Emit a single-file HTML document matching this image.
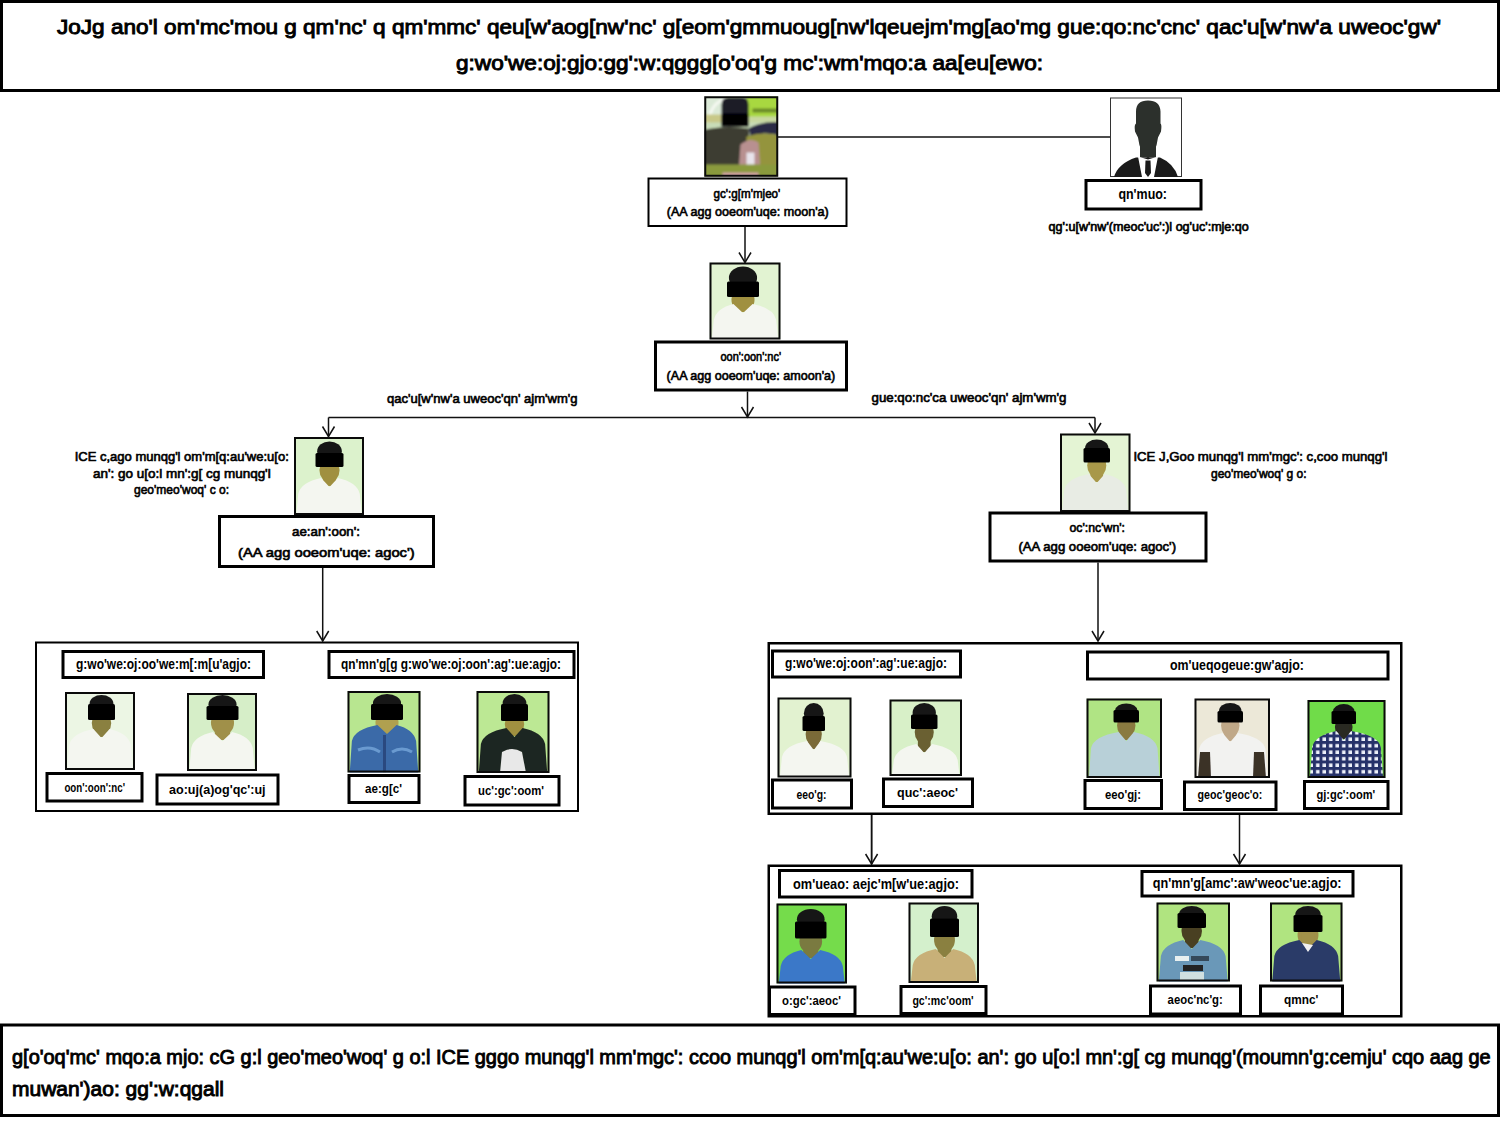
<!DOCTYPE html>
<html><head><meta charset="utf-8"><title>chart</title>
<style>
html,body{margin:0;padding:0;background:#fff;width:1500px;height:1125px;overflow:hidden}
svg{display:block}
text{font-family:"Liberation Sans",sans-serif}
</style></head>
<body>
<svg width="1500" height="1125" viewBox="0 0 1500 1125">
<defs><filter id="soft" x="-5%" y="-5%" width="110%" height="110%"><feGaussianBlur stdDeviation="0.5"/></filter><pattern id="chk" x="0" y="0" width="6.5" height="6.5" patternUnits="userSpaceOnUse"><rect width="6.5" height="6.5" fill="#eef2fa"/><rect width="3" height="6.5" fill="#28306a"/><rect width="6.5" height="3" fill="#28306a"/></pattern></defs>
<rect x="0" y="0" width="1500" height="1125" fill="#fff"/>
<rect x="1.50" y="1.50" width="1497.00" height="89.00" fill="none" stroke="#000" stroke-width="3"/>
<text x="57" y="33.5" font-size="20" font-weight="normal" fill="#000" stroke="#000" stroke-width="0.9" textLength="1384" lengthAdjust="spacingAndGlyphs">JoJg ano&#x27;l om&#x27;mc&#x27;mou g qm&#x27;nc&#x27; q qm&#x27;mmc&#x27; qeu[w&#x27;aog[nw&#x27;nc&#x27; g[eom&#x27;gmmuoug[nw&#x27;lqeuejm&#x27;mg[ao&#x27;mg gue:qo:nc&#x27;cnc&#x27; qac&#x27;u[w&#x27;nw&#x27;a uweoc&#x27;gw&#x27;</text>
<text x="456" y="69.5" font-size="20" font-weight="normal" fill="#000" stroke="#000" stroke-width="0.9" textLength="587" lengthAdjust="spacingAndGlyphs">g:wo&#x27;we:oj:gjo:gg&#x27;:w:qggg[o&#x27;oq&#x27;g mc&#x27;:wm&#x27;mqo:a aa[eu[ewo:</text>
<g><clipPath id="cp1"><rect x="704.5" y="96.5" width="73.5" height="80"/></clipPath><filter id="bl1" x="-5%" y="-5%" width="110%" height="110%"><feGaussianBlur stdDeviation="1.2"/></filter><g clip-path="url(#cp1)"><g transform="translate(704.5,96.5)" filter="url(#bl1)"><rect x="-3" y="-3" width="80" height="86" fill="#c8dcb8"/><rect x="-3" y="-3" width="22" height="28" fill="#dcead8"/><path d="M4,26 Q6,6 22,2" fill="none" stroke="#f4f8f0" stroke-width="3"/><rect x="42" y="-3" width="36" height="28" fill="#a8d840"/><rect x="48" y="12" width="30" height="4" fill="#6a8a28"/><rect x="-3" y="18" width="24" height="8" fill="#c8c888"/><rect x="42" y="20" width="36" height="6" fill="#c8d8a0"/><path d="M44,32 Q58,24 78,26 L78,40 Q60,34 46,40 Z" fill="#2a2c44"/><path d="M-3,34 Q20,28 44,32 L50,84 L-3,84 Z" fill="#3c3c32"/><path d="M42,40 Q60,34 78,40 L78,84 L40,84 Z" fill="#94943c"/><path d="M36,48 Q46,40 54,46 L56,74 L34,76 Z" fill="#b89090"/><rect x="42" y="56" width="8" height="16" fill="#e8e4ec"/><rect x="-3" y="68" width="80" height="16" fill="#8a9a3c"/><rect x="18" y="76" width="36" height="8" fill="#d0a0a0"/><path d="M17,30 L17,8 Q17,1 24,1 L38,1 Q44,1 44,8 L44,30 Z" fill="#1c1c28"/><rect x="17" y="17" width="27" height="13" rx="1.5" fill="#060606"/></g></g><rect x="705.25" y="97.25" width="72.0" height="78.5" fill="none" stroke="#0a0a0a" stroke-width="2"/></g>
<g><rect x="1110.5" y="98.0" width="71" height="78.5" fill="#fff" stroke="#333" stroke-width="1"/><path d="M1136,111.5 Q1136,100.5 1148,100.5 Q1160,100.5 1160.5,111.5 L1160.5,123.5 Q1162,124.5 1161,131.5 Q1159,135.5 1158,137.5 Q1156,153.5 1148,158.5 Q1140,153.5 1138,137.5 Q1137,135.5 1135,131.5 Q1134,124.5 1136,123.5 Z" fill="#2c302c"/><rect x="1140" y="145.5" width="16" height="12" fill="#2c302c"/><path d="M1114,177 Q1118,163.5 1136,157.5 L1160,157.5 Q1174,163.5 1178,177 Z" fill="#1a1a1a"/><path d="M1138,156.5 L1148,159.5 L1158,156.5 L1154,177 L1142,177 Z" fill="#fff"/><path d="M1145.5,160.5 L1150.5,160.5 L1151,173 L1148,177 L1145,173 Z" fill="#1a1a1a"/></g>
<g><clipPath id="c1"><rect x="709.5" y="262.5" width="71.0" height="77.0"/></clipPath><g clip-path="url(#c1)"><g filter="url(#soft)"><rect x="709.5" y="262.5" width="71.0" height="77.0" fill="#e2f3d2"/><ellipse cx="743.0" cy="300" rx="11.52" ry="12.0" fill="#a09040"/><rect x="735.32" y="299" width="15.36" height="13" fill="#a09040"/><path d="M711.63,340.5 L713.76,320 Q716.6,308 733.4,304 L743.0,313 L752.6,304 Q773.4,308 776.24,320 L778.37,340.5 Z" fill="#f4f6f0"/><ellipse cx="743.0" cy="278.0" rx="14.08" ry="11.5" fill="#161616"/><rect x="727" y="281.5" width="32" height="15.5" rx="1.5" fill="#060606"/></g></g><rect x="710.5" y="263.5" width="69.0" height="75.0" fill="none" stroke="#0a0a0a" stroke-width="2"/></g>
<g><clipPath id="c2"><rect x="294" y="437" width="70" height="78"/></clipPath><g clip-path="url(#c2)"><g filter="url(#soft)"><rect x="294" y="437" width="70" height="78" fill="#dcf2cc"/><ellipse cx="329.5" cy="470" rx="10.08" ry="12.0" fill="#a09040"/><rect x="322.78" y="469" width="13.44" height="17" fill="#a09040"/><path d="M296.1,516 L298.2,494 Q301.0,482 321.1,478 L329.5,487 L337.9,478 Q357.0,482 359.8,494 L361.9,516 Z" fill="#f4f6f0"/><ellipse cx="329.5" cy="451.25" rx="12.32" ry="9.75" fill="#161616"/><rect x="315.5" y="453" width="28.0" height="14" rx="1.5" fill="#060606"/></g></g><rect x="295.0" y="438.0" width="68" height="76" fill="none" stroke="#0a0a0a" stroke-width="2"/></g>
<g><clipPath id="c3"><rect x="1060" y="433.5" width="70.5" height="78.5"/></clipPath><g clip-path="url(#c3)"><g filter="url(#soft)"><rect x="1060" y="433.5" width="70.5" height="78.5" fill="#e4f4d4"/><ellipse cx="1096.75" cy="465.5" rx="9.54" ry="12.0" fill="#a89848"/><rect x="1090.39" y="464.5" width="12.719999999999999" height="17.5" fill="#a89848"/><path d="M1062.115,513 L1064.23,490 Q1067.05,478 1088.8,474 L1096.75,483 L1104.7,474 Q1123.45,478 1126.27,490 L1128.385,513 Z" fill="#e8ece4"/><ellipse cx="1096.75" cy="447.75" rx="11.66" ry="8.25" fill="#161616"/><rect x="1083.5" y="448" width="26.5" height="14.5" rx="1.5" fill="#060606"/></g></g><rect x="1061.0" y="434.5" width="68.5" height="76.5" fill="none" stroke="#0a0a0a" stroke-width="2"/></g>
<g><clipPath id="c4"><rect x="65" y="692" width="70" height="78"/></clipPath><g clip-path="url(#c4)"><g filter="url(#soft)"><rect x="65" y="692" width="70" height="78" fill="#ecf6e4"/><ellipse cx="101.5" cy="723" rx="9.719999999999999" ry="12.0" fill="#8a8040"/><rect x="95.02" y="722" width="12.959999999999999" height="15" fill="#8a8040"/><path d="M67.1,771 L69.2,745 Q72.0,733 93.4,729 L101.5,738 L109.6,729 Q128.0,733 130.8,745 L132.9,771 Z" fill="#f4f6f0"/><ellipse cx="101.5" cy="703.5" rx="11.88" ry="8.5" fill="#161616"/><rect x="88" y="704" width="27" height="16" rx="1.5" fill="#060606"/></g></g><rect x="66.0" y="693.0" width="68" height="76" fill="none" stroke="#0a0a0a" stroke-width="2"/></g>
<g><clipPath id="c5"><rect x="187" y="693" width="70" height="78"/></clipPath><g clip-path="url(#c5)"><g filter="url(#soft)"><rect x="187" y="693" width="70" height="78" fill="#d6eec8"/><ellipse cx="222.5" cy="723" rx="11.52" ry="12.0" fill="#a09048"/><rect x="214.82" y="722" width="15.36" height="18" fill="#a09048"/><path d="M189.1,772 L191.2,748 Q194.0,736 212.9,732 L222.5,741 L232.1,732 Q250.0,736 252.8,748 L254.9,772 Z" fill="#f4f6f0"/><ellipse cx="222.5" cy="704.5" rx="14.08" ry="9.5" fill="#161616"/><rect x="206.5" y="706" width="32.0" height="14" rx="1.5" fill="#060606"/></g></g><rect x="188.0" y="694.0" width="68" height="76" fill="none" stroke="#0a0a0a" stroke-width="2"/></g>
<g><clipPath id="c6"><rect x="347.5" y="691" width="73.0" height="81.5"/></clipPath><g clip-path="url(#c6)"><g filter="url(#soft)"><rect x="347.5" y="691" width="73.0" height="81.5" fill="#b8e690"/><ellipse cx="387.0" cy="723" rx="11.52" ry="12.0" fill="#b0a050"/><rect x="379.32" y="722" width="15.36" height="11" fill="#b0a050"/><path d="M349.69,773.5 L351.88,741 Q354.8,729 377.4,725 L387.0,734 L396.6,725 Q413.2,729 416.12,741 L418.31,773.5 Z" fill="#3a6aa8"/><path d="M358,750 Q370,745 380,752" stroke="#6a9ad0" stroke-width="3" fill="none"/><path d="M392,752 Q402,746 412,752" stroke="#6a9ad0" stroke-width="3" fill="none"/><rect x="383" y="735" width="3" height="38" fill="#2a4a80"/><ellipse cx="387.0" cy="703.0" rx="14.08" ry="9.0" fill="#161616"/><rect x="371" y="704" width="32" height="16" rx="1.5" fill="#060606"/></g></g><rect x="348.5" y="692.0" width="71.0" height="79.5" fill="none" stroke="#0a0a0a" stroke-width="2"/></g>
<g><clipPath id="c7"><rect x="476.5" y="691" width="73.0" height="82"/></clipPath><g clip-path="url(#c7)"><g filter="url(#soft)"><rect x="476.5" y="691" width="73.0" height="82" fill="#bce894"/><ellipse cx="514.5" cy="724" rx="9.719999999999999" ry="12.0" fill="#a09040"/><rect x="508.02" y="723" width="12.959999999999999" height="13" fill="#a09040"/><path d="M478.69,774 L480.88,744 Q483.8,732 506.4,728 L514.5,737 L522.6,728 Q542.2,732 545.12,744 L547.31,774 Z" fill="#1e2820"/><path d="M500,773 L502,752 Q512,746 522,752 L526,773 Z" fill="#e8e8e8"/><ellipse cx="514.5" cy="703.0" rx="11.88" ry="9.0" fill="#161616"/><rect x="501" y="704" width="27" height="17" rx="1.5" fill="#060606"/></g></g><rect x="477.5" y="692.0" width="71.0" height="80" fill="none" stroke="#0a0a0a" stroke-width="2"/></g>
<g><clipPath id="c8"><rect x="777.5" y="697.5" width="74.0" height="80.0"/></clipPath><g clip-path="url(#c8)"><g filter="url(#soft)"><rect x="777.5" y="697.5" width="74.0" height="80.0" fill="#e2f2d0"/><ellipse cx="813.75" cy="734" rx="8.1" ry="12.0" fill="#7a6a38"/><rect x="808.35" y="733" width="10.799999999999999" height="16" fill="#7a6a38"/><path d="M779.72,778.5 L781.94,757 Q784.9,745 807.0,741 L813.75,750 L820.5,741 Q844.1,745 847.06,757 L849.28,778.5 Z" fill="#f4f6f0"/><ellipse cx="813.75" cy="713.5" rx="9.9" ry="10.5" fill="#161616"/><rect x="802.5" y="716" width="22.5" height="15" rx="1.5" fill="#060606"/></g></g><rect x="778.5" y="698.5" width="72.0" height="78.0" fill="none" stroke="#0a0a0a" stroke-width="2"/></g>
<g><clipPath id="c9"><rect x="889.5" y="699.5" width="72.5" height="76.5"/></clipPath><g clip-path="url(#c9)"><g filter="url(#soft)"><rect x="889.5" y="699.5" width="72.5" height="76.5" fill="#d8f0c8"/><ellipse cx="924.25" cy="732" rx="9.54" ry="12.0" fill="#6a6030"/><rect x="917.89" y="731" width="12.719999999999999" height="21" fill="#6a6030"/><path d="M891.675,777 L893.85,760 Q896.75,748 916.3,744 L924.25,753 L932.2,744 Q954.75,748 957.65,760 L959.825,777 Z" fill="#f4f6f0"/><ellipse cx="924.25" cy="712.75" rx="11.66" ry="9.75" fill="#161616"/><rect x="911" y="714.5" width="26.5" height="14.5" rx="1.5" fill="#060606"/></g></g><rect x="890.5" y="700.5" width="70.5" height="74.5" fill="none" stroke="#0a0a0a" stroke-width="2"/></g>
<g><clipPath id="c10"><rect x="1086.5" y="698.5" width="75.5" height="79.5"/></clipPath><g clip-path="url(#c10)"><g filter="url(#soft)"><rect x="1086.5" y="698.5" width="75.5" height="79.5" fill="#b0e484"/><ellipse cx="1126.25" cy="725.5" rx="9.18" ry="12.0" fill="#8a7a40"/><rect x="1120.13" y="724.5" width="12.24" height="15.5" fill="#8a7a40"/><path d="M1088.765,779 L1091.03,748 Q1094.05,736 1118.6,732 L1126.25,741 L1133.9,732 Q1154.45,736 1157.47,748 L1159.735,779 Z" fill="#b8d0d8"/><ellipse cx="1126.25" cy="710.75" rx="11.22" ry="7.25" fill="#161616"/><rect x="1113.5" y="710" width="25.5" height="12.5" rx="1.5" fill="#060606"/></g></g><rect x="1087.5" y="699.5" width="73.5" height="77.5" fill="none" stroke="#0a0a0a" stroke-width="2"/></g>
<g><clipPath id="c11"><rect x="1194.5" y="698.5" width="75.5" height="79.5"/></clipPath><g clip-path="url(#c11)"><g filter="url(#soft)"><rect x="1194.5" y="698.5" width="75.5" height="79.5" fill="#ece8d8"/><ellipse cx="1230.25" cy="725.5" rx="9.18" ry="12.0" fill="#c0a888"/><rect x="1224.13" y="724.5" width="12.24" height="16.5" fill="#c0a888"/><path d="M1196.765,779 L1199.03,749 Q1202.05,737 1222.6,733 L1230.25,742 L1237.9,733 Q1262.45,737 1265.47,749 L1267.735,779 Z" fill="#f2f2f0"/><path d="M1198,778 L1200,752 L1210,752 L1211,778 Z" fill="#3a3028"/><path d="M1266,778 L1264,752 L1254,752 L1253,778 Z" fill="#3a3028"/><ellipse cx="1230.25" cy="711.0" rx="11.22" ry="8.0" fill="#161616"/><rect x="1217.5" y="711" width="25.5" height="11.5" rx="1.5" fill="#060606"/></g></g><rect x="1195.5" y="699.5" width="73.5" height="77.5" fill="none" stroke="#0a0a0a" stroke-width="2"/></g>
<g><clipPath id="c12"><rect x="1307.5" y="700" width="78.0" height="78"/></clipPath><g clip-path="url(#c12)"><g filter="url(#soft)"><rect x="1307.5" y="700" width="78.0" height="78" fill="#70dc48"/><ellipse cx="1343.75" cy="727" rx="8.82" ry="12.0" fill="#2a2a20"/><rect x="1337.87" y="726" width="11.76" height="13" fill="#2a2a20"/><path d="M1309.84,779 L1312.18,747 Q1315.3,735 1336.4,731 L1343.75,740 L1351.1,731 Q1377.7,735 1380.82,747 L1383.16,779 Z" fill="url(#chk)"/><ellipse cx="1343.75" cy="711.5" rx="10.78" ry="7.5" fill="#161616"/><rect x="1331.5" y="711" width="24.5" height="13" rx="1.5" fill="#060606"/></g></g><rect x="1308.5" y="701.0" width="76.0" height="76" fill="none" stroke="#0a0a0a" stroke-width="2"/></g>
<g><clipPath id="c13"><rect x="776.5" y="903.5" width="70.5" height="80.0"/></clipPath><g clip-path="url(#c13)"><g filter="url(#soft)"><rect x="776.5" y="903.5" width="70.5" height="80.0" fill="#74dc4c"/><ellipse cx="810.75" cy="941.5" rx="11.34" ry="12.0" fill="#7a7a40"/><rect x="803.19" y="940.5" width="15.12" height="17.5" fill="#7a7a40"/><path d="M778.615,984.5 L780.73,966 Q783.55,954 801.3,950 L810.75,959 L820.2,950 Q839.95,954 842.77,966 L844.885,984.5 Z" fill="#3a78c8"/><ellipse cx="810.75" cy="919.25" rx="13.86" ry="10.25" fill="#161616"/><rect x="795" y="921.5" width="31.5" height="17.0" rx="1.5" fill="#060606"/></g></g><rect x="777.5" y="904.5" width="68.5" height="78.0" fill="none" stroke="#0a0a0a" stroke-width="2"/></g>
<g><clipPath id="c14"><rect x="908.5" y="902.5" width="70.5" height="80.5"/></clipPath><g clip-path="url(#c14)"><g filter="url(#soft)"><rect x="908.5" y="902.5" width="70.5" height="80.5" fill="#d4f0cc"/><ellipse cx="944.5" cy="940" rx="10.44" ry="12.0" fill="#8a8040"/><rect x="937.54" y="939" width="13.92" height="18" fill="#8a8040"/><path d="M910.615,984 L912.73,965 Q915.55,953 935.8,949 L944.5,958 L953.2,949 Q971.95,953 974.77,965 L976.885,984 Z" fill="#c8b078"/><ellipse cx="944.5" cy="916.25" rx="12.76" ry="10.25" fill="#161616"/><rect x="930" y="918.5" width="29" height="18.5" rx="1.5" fill="#060606"/></g></g><rect x="909.5" y="903.5" width="68.5" height="78.5" fill="none" stroke="#0a0a0a" stroke-width="2"/></g>
<g><clipPath id="c15"><rect x="1156.5" y="902.5" width="73.5" height="79.0"/></clipPath><g clip-path="url(#c15)"><g filter="url(#soft)"><rect x="1156.5" y="902.5" width="73.5" height="79.0" fill="#b0e480"/><ellipse cx="1191.75" cy="931" rx="10.26" ry="12.0" fill="#4a4020"/><rect x="1184.91" y="930" width="13.68" height="18" fill="#4a4020"/><path d="M1158.705,982.5 L1160.91,956 Q1163.85,944 1183.2,940 L1191.75,949 L1200.3,940 Q1222.65,944 1225.59,956 L1227.795,982.5 Z" fill="#6a98b8"/><rect x="1175" y="956" width="14" height="5" fill="#e8f0f0"/><rect x="1191" y="956" width="18" height="5" fill="#34485a"/><rect x="1183" y="965" width="20" height="6" fill="#222"/><rect x="1180" y="972" width="24" height="9" fill="#d0e0e0"/><ellipse cx="1191.75" cy="913.5" rx="12.540000000000001" ry="7.5" fill="#161616"/><rect x="1177.5" y="913" width="28.5" height="15" rx="1.5" fill="#060606"/></g></g><rect x="1157.5" y="903.5" width="71.5" height="77.0" fill="none" stroke="#0a0a0a" stroke-width="2"/></g>
<g><clipPath id="c16"><rect x="1270" y="902.5" width="72.5" height="79.0"/></clipPath><g clip-path="url(#c16)"><g filter="url(#soft)"><rect x="1270" y="902.5" width="72.5" height="79.0" fill="#b0e480"/><ellipse cx="1308.0" cy="935" rx="10.44" ry="12.0" fill="#a09048"/><rect x="1301.04" y="934" width="13.92" height="14" fill="#a09048"/><path d="M1272.175,982.5 L1274.35,956 Q1277.25,944 1299.3,940 L1308.0,949 L1316.7,940 Q1335.25,944 1338.15,956 L1340.325,982.5 Z" fill="#2a3a68"/><path d="M1302,943 L1308,952 L1313,945 Z" fill="#f0f0f0"/><ellipse cx="1308.0" cy="914.5" rx="12.76" ry="8.5" fill="#161616"/><rect x="1293.5" y="915" width="29.0" height="17" rx="1.5" fill="#060606"/></g></g><rect x="1271.0" y="903.5" width="70.5" height="77.0" fill="none" stroke="#0a0a0a" stroke-width="2"/></g>
<rect x="648.50" y="178.50" width="198.00" height="47.50" fill="none" stroke="#000" stroke-width="2"/>
<text x="713.6" y="198" font-size="13" font-weight="normal" fill="#000" stroke="#000" stroke-width="0.65" textLength="66.69999999999993" lengthAdjust="spacingAndGlyphs">gc&#x27;:g[m&#x27;mjeo&#x27;</text>
<text x="666.8" y="216" font-size="13" font-weight="normal" fill="#000" stroke="#000" stroke-width="0.65" textLength="162.0" lengthAdjust="spacingAndGlyphs">(AA agg ooeom&#x27;uqe: moon&#x27;a)</text>
<rect x="1086.00" y="180.50" width="115.00" height="28.50" fill="none" stroke="#000" stroke-width="3"/>
<text x="1118.4" y="199" font-size="14" font-weight="bold" fill="#000" textLength="48.59999999999991" lengthAdjust="spacingAndGlyphs">qn&#x27;muo:</text>
<text x="1048.6" y="231" font-size="12" font-weight="normal" fill="#000" stroke="#000" stroke-width="0.65" textLength="200.20000000000005" lengthAdjust="spacingAndGlyphs">qg&#x27;:u[w&#x27;nw&#x27;(meoc&#x27;uc&#x27;:)l og&#x27;uc&#x27;:mje:qo</text>
<line x1="778" y1="137" x2="1110" y2="137" stroke="#111" stroke-width="1.5"/>
<line x1="745" y1="227" x2="745" y2="262.5" stroke="#111" stroke-width="1.5"/>
<polyline points="739,252.5 745,262.5 751,252.5" fill="none" stroke="#111" stroke-width="1.5"/>
<rect x="655.50" y="342.00" width="191.00" height="48.00" fill="none" stroke="#000" stroke-width="3"/>
<text x="720.5" y="361" font-size="13" font-weight="normal" fill="#000" stroke="#000" stroke-width="0.65" textLength="60.5" lengthAdjust="spacingAndGlyphs">oon&#x27;:oon&#x27;:nc&#x27;</text>
<text x="666.6" y="380" font-size="13" font-weight="normal" fill="#000" stroke="#000" stroke-width="0.65" textLength="168.60000000000002" lengthAdjust="spacingAndGlyphs">(AA agg ooeom&#x27;uqe: amoon&#x27;a)</text>
<line x1="747.5" y1="391.5" x2="747.5" y2="417" stroke="#111" stroke-width="1.5"/>
<polyline points="741.5,407 747.5,417 753.5,407" fill="none" stroke="#111" stroke-width="1.5"/>
<line x1="328.5" y1="417.5" x2="1095" y2="417.5" stroke="#111" stroke-width="1.5"/>
<line x1="328.5" y1="417.5" x2="328.5" y2="436.5" stroke="#111" stroke-width="1.5"/>
<polyline points="322.5,426.5 328.5,436.5 334.5,426.5" fill="none" stroke="#111" stroke-width="1.5"/>
<line x1="1095" y1="417.5" x2="1095" y2="433" stroke="#111" stroke-width="1.5"/>
<polyline points="1089,423 1095,433 1101,423" fill="none" stroke="#111" stroke-width="1.5"/>
<text x="387" y="403" font-size="13" font-weight="normal" fill="#000" stroke="#000" stroke-width="0.65" textLength="190.5" lengthAdjust="spacingAndGlyphs">qac&#x27;u[w&#x27;nw&#x27;a uweoc&#x27;qn&#x27; ajm&#x27;wm&#x27;g</text>
<text x="871.5" y="402" font-size="13" font-weight="normal" fill="#000" stroke="#000" stroke-width="0.65" textLength="195.0" lengthAdjust="spacingAndGlyphs">gue:qo:nc&#x27;ca uweoc&#x27;qn&#x27; ajm&#x27;wm&#x27;g</text>
<text x="74.7" y="461" font-size="13" font-weight="normal" fill="#000" stroke="#000" stroke-width="0.65" textLength="214.10000000000002" lengthAdjust="spacingAndGlyphs">ICE c,ago munqg&#x27;l om&#x27;m[q:au&#x27;we:u[o:</text>
<text x="93" y="478" font-size="13" font-weight="normal" fill="#000" stroke="#000" stroke-width="0.65" textLength="177.7" lengthAdjust="spacingAndGlyphs">an&#x27;: go u[o:l mn&#x27;:g[ cg munqg&#x27;l</text>
<text x="134" y="494" font-size="13" font-weight="normal" fill="#000" stroke="#000" stroke-width="0.65" textLength="95" lengthAdjust="spacingAndGlyphs">geo&#x27;meo&#x27;woq&#x27; c o:</text>
<rect x="219.50" y="516.50" width="214.00" height="50.00" fill="none" stroke="#000" stroke-width="3"/>
<text x="292" y="536" font-size="13" font-weight="normal" fill="#000" stroke="#000" stroke-width="0.65" textLength="68" lengthAdjust="spacingAndGlyphs">ae:an&#x27;:oon&#x27;:</text>
<text x="238" y="557" font-size="13" font-weight="normal" fill="#000" stroke="#000" stroke-width="0.65" textLength="176.7" lengthAdjust="spacingAndGlyphs">(AA agg ooeom&#x27;uqe: agoc&#x27;)</text>
<line x1="322.7" y1="568" x2="322.7" y2="641" stroke="#111" stroke-width="1.5"/>
<polyline points="316.7,631 322.7,641 328.7,631" fill="none" stroke="#111" stroke-width="1.5"/>
<text x="1133.4" y="461" font-size="13" font-weight="normal" fill="#000" stroke="#000" stroke-width="0.65" textLength="254.0999999999999" lengthAdjust="spacingAndGlyphs">ICE J,Goo munqg&#x27;l mm&#x27;mgc&#x27;: c,coo munqg&#x27;l</text>
<text x="1211" y="478" font-size="13" font-weight="normal" fill="#000" stroke="#000" stroke-width="0.65" textLength="95.5" lengthAdjust="spacingAndGlyphs">geo&#x27;meo&#x27;woq&#x27; g o:</text>
<rect x="990.00" y="513.00" width="216.00" height="48.00" fill="none" stroke="#000" stroke-width="3"/>
<text x="1069.5" y="532" font-size="13" font-weight="normal" fill="#000" stroke="#000" stroke-width="0.65" textLength="55.5" lengthAdjust="spacingAndGlyphs">oc&#x27;:nc&#x27;wn&#x27;:</text>
<text x="1018.5" y="551" font-size="13" font-weight="normal" fill="#000" stroke="#000" stroke-width="0.65" textLength="157.5" lengthAdjust="spacingAndGlyphs">(AA agg ooeom&#x27;uqe: agoc&#x27;)</text>
<line x1="1098" y1="562.5" x2="1098" y2="641" stroke="#111" stroke-width="1.5"/>
<polyline points="1092,631 1098,641 1104,631" fill="none" stroke="#111" stroke-width="1.5"/>
<rect x="36.00" y="642.50" width="542.00" height="168.50" fill="none" stroke="#000" stroke-width="2"/>
<rect x="63.00" y="651.50" width="200.50" height="26.00" fill="none" stroke="#000" stroke-width="3"/>
<text x="76" y="669" font-size="14" font-weight="bold" fill="#000" textLength="175" lengthAdjust="spacingAndGlyphs">g:wo&#x27;we:oj:oo&#x27;we:m[:m[u&#x27;agjo:</text>
<rect x="329.00" y="651.50" width="245.00" height="26.00" fill="none" stroke="#000" stroke-width="3"/>
<text x="341" y="669" font-size="14" font-weight="bold" fill="#000" textLength="220" lengthAdjust="spacingAndGlyphs">qn&#x27;mn&#x27;g[g g:wo&#x27;we:oj:oon&#x27;:ag&#x27;:ue:agjo:</text>
<rect x="47.00" y="773.50" width="95.00" height="27.50" fill="none" stroke="#000" stroke-width="3"/>
<text x="64.4" y="792" font-size="13" font-weight="bold" fill="#000" textLength="60.599999999999994" lengthAdjust="spacingAndGlyphs">oon&#x27;:oon&#x27;:nc&#x27;</text>
<rect x="157.00" y="775.00" width="121.00" height="29.00" fill="none" stroke="#000" stroke-width="3"/>
<text x="169" y="794" font-size="13" font-weight="bold" fill="#000" textLength="96.60000000000002" lengthAdjust="spacingAndGlyphs">ao:uj(a)og&#x27;qc&#x27;:uj</text>
<rect x="349.00" y="775.50" width="70.00" height="27.00" fill="none" stroke="#000" stroke-width="3"/>
<text x="365" y="793" font-size="13" font-weight="bold" fill="#000" textLength="37" lengthAdjust="spacingAndGlyphs">ae:g[c&#x27;</text>
<rect x="465.00" y="776.50" width="94.00" height="28.50" fill="none" stroke="#000" stroke-width="3"/>
<text x="478" y="795" font-size="13" font-weight="bold" fill="#000" textLength="66" lengthAdjust="spacingAndGlyphs">uc&#x27;:gc&#x27;:oom&#x27;</text>
<rect x="768.75" y="643.25" width="632.50" height="170.50" fill="none" stroke="#000" stroke-width="2.5"/>
<rect x="772.50" y="651.00" width="188.00" height="26.00" fill="none" stroke="#000" stroke-width="3"/>
<text x="785" y="668" font-size="14" font-weight="bold" fill="#000" textLength="162" lengthAdjust="spacingAndGlyphs">g:wo&#x27;we:oj:oon&#x27;:ag&#x27;:ue:agjo:</text>
<rect x="1087.50" y="652.00" width="300.50" height="27.00" fill="none" stroke="#000" stroke-width="3"/>
<text x="1170" y="670" font-size="14" font-weight="bold" fill="#000" textLength="134" lengthAdjust="spacingAndGlyphs">om&#x27;ueqogeue:gw&#x27;agjo:</text>
<rect x="772.50" y="780.00" width="79.00" height="28.00" fill="none" stroke="#000" stroke-width="3"/>
<text x="796.4" y="799" font-size="13" font-weight="bold" fill="#000" textLength="30.0" lengthAdjust="spacingAndGlyphs">eeo&#x27;g:</text>
<rect x="883.50" y="779.00" width="89.00" height="27.50" fill="none" stroke="#000" stroke-width="3"/>
<text x="897" y="797" font-size="13" font-weight="bold" fill="#000" textLength="61" lengthAdjust="spacingAndGlyphs">quc&#x27;:aeoc&#x27;</text>
<rect x="1085.00" y="780.50" width="76.50" height="28.00" fill="none" stroke="#000" stroke-width="3"/>
<text x="1105" y="799" font-size="13" font-weight="bold" fill="#000" textLength="36" lengthAdjust="spacingAndGlyphs">eeo&#x27;gj:</text>
<rect x="1184.50" y="782.00" width="91.50" height="27.50" fill="none" stroke="#000" stroke-width="3"/>
<text x="1197.6" y="799" font-size="13" font-weight="bold" fill="#000" textLength="64.80000000000018" lengthAdjust="spacingAndGlyphs">geoc&#x27;geoc&#x27;o:</text>
<rect x="1304.50" y="781.50" width="83.50" height="27.00" fill="none" stroke="#000" stroke-width="3"/>
<text x="1316.4" y="799" font-size="13" font-weight="bold" fill="#000" textLength="58.799999999999955" lengthAdjust="spacingAndGlyphs">gj:gc&#x27;:oom&#x27;</text>
<line x1="871.6" y1="815" x2="871.6" y2="864.5" stroke="#111" stroke-width="1.5"/>
<line x1="871.6" y1="815" x2="871.6" y2="864" stroke="#111" stroke-width="1.5"/>
<polyline points="865.6,854 871.6,864 877.6,854" fill="none" stroke="#111" stroke-width="1.5"/>
<line x1="1239.5" y1="815" x2="1239.5" y2="864" stroke="#111" stroke-width="1.5"/>
<polyline points="1233.5,854 1239.5,864 1245.5,854" fill="none" stroke="#111" stroke-width="1.5"/>
<rect x="768.75" y="865.75" width="632.50" height="150.50" fill="none" stroke="#000" stroke-width="2.5"/>
<rect x="779.50" y="870.50" width="192.50" height="26.50" fill="none" stroke="#000" stroke-width="3"/>
<text x="793" y="889" font-size="14" font-weight="bold" fill="#000" textLength="166" lengthAdjust="spacingAndGlyphs">om&#x27;ueao: aejc&#x27;m[w&#x27;ue:agjo:</text>
<rect x="1142.00" y="871.50" width="211.00" height="24.50" fill="none" stroke="#000" stroke-width="3"/>
<text x="1152.7" y="888" font-size="14" font-weight="bold" fill="#000" textLength="188.89999999999986" lengthAdjust="spacingAndGlyphs">qn&#x27;mn&#x27;g[amc&#x27;:aw&#x27;weoc&#x27;ue:agjo:</text>
<rect x="769.50" y="987.00" width="85.50" height="27.50" fill="none" stroke="#000" stroke-width="3"/>
<text x="782" y="1005" font-size="13" font-weight="bold" fill="#000" textLength="59" lengthAdjust="spacingAndGlyphs">o:gc&#x27;:aeoc&#x27;</text>
<rect x="901.00" y="986.50" width="85.00" height="27.00" fill="none" stroke="#000" stroke-width="3"/>
<text x="912.4" y="1005" font-size="13" font-weight="bold" fill="#000" textLength="61.200000000000045" lengthAdjust="spacingAndGlyphs">gc&#x27;:mc&#x27;oom&#x27;</text>
<rect x="1150.50" y="986.00" width="90.00" height="28.00" fill="none" stroke="#000" stroke-width="3"/>
<text x="1167.6" y="1004" font-size="13" font-weight="bold" fill="#000" textLength="55.200000000000045" lengthAdjust="spacingAndGlyphs">aeoc&#x27;nc&#x27;g:</text>
<rect x="1260.50" y="986.00" width="82.00" height="28.00" fill="none" stroke="#000" stroke-width="3"/>
<text x="1284" y="1004" font-size="13" font-weight="bold" fill="#000" textLength="34.299999999999955" lengthAdjust="spacingAndGlyphs">qmnc&#x27;</text>
<rect x="1.50" y="1025.00" width="1497.00" height="90.50" fill="none" stroke="#000" stroke-width="3"/>
<text x="12" y="1063.5" font-size="20" font-weight="normal" fill="#000" stroke="#000" stroke-width="0.9" textLength="1478.7" lengthAdjust="spacingAndGlyphs">g[o&#x27;oq&#x27;mc&#x27; mqo:a mjo: cG g:l geo&#x27;meo&#x27;woq&#x27; g o:l  ICE gggo munqg&#x27;l mm&#x27;mgc&#x27;: ccoo munqg&#x27;l om&#x27;m[q:au&#x27;we:u[o: an&#x27;: go u[o:l mn&#x27;:g[ cg munqg&#x27;(moumn&#x27;g:cemju&#x27; cqo aag ge</text>
<text x="12" y="1095.5" font-size="20" font-weight="normal" fill="#000" stroke="#000" stroke-width="0.9" textLength="212" lengthAdjust="spacingAndGlyphs">muwan&#x27;)ao: gg&#x27;:w:qgall</text>
</svg>
</body></html>
